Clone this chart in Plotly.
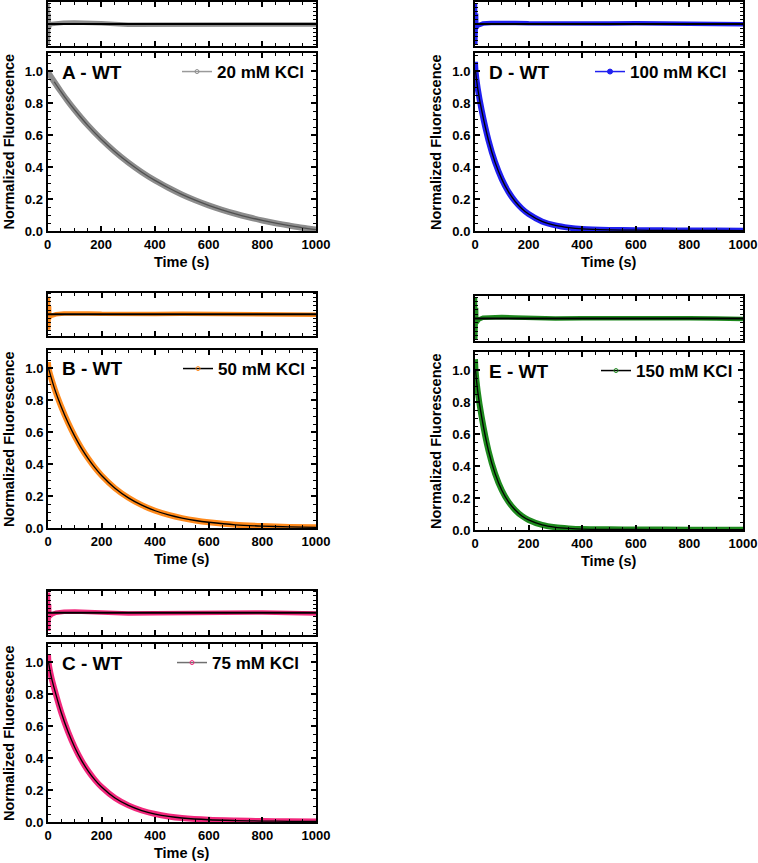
import plotly.graph_objects as go

W, H = 758, 863

# ---------------- data ----------------
time_A = [0, 25, 50, 75, 100, 150, 200, 250, 300, 350, 400, 450, 500, 550, 600, 650, 700, 750, 800, 850, 900, 950, 1000]
fluor_A = [1.00, 0.935, 0.873, 0.815, 0.761, 0.662, 0.575, 0.498, 0.430, 0.370, 0.317, 0.271, 0.229, 0.193,
           0.161, 0.133, 0.108, 0.086, 0.066, 0.049, 0.034, 0.020, 0.009]

time_B = [0, 2, 25, 50, 75, 100, 125, 150, 175, 200, 250, 300, 350, 400, 450, 500, 550, 600, 700, 800, 900, 1000]
fluor_B = [1.04, 1.00, 0.870, 0.757, 0.659, 0.574, 0.499, 0.435, 0.378, 0.329, 0.249, 0.189, 0.143, 0.108,
           0.082, 0.062, 0.047, 0.036, 0.020, 0.012, 0.007, 0.004]

time_C = [0, 2, 12, 25, 50, 75, 100, 125, 150, 175, 200, 250, 300, 350, 400, 450, 500, 600, 700, 800, 900, 1000]
fluor_C = [1.05, 1.00, 0.91, 0.826, 0.683, 0.565, 0.467, 0.386, 0.319, 0.264, 0.219, 0.150, 0.104, 0.072,
           0.050, 0.035, 0.025, 0.014, 0.009, 0.006, 0.004, 0.003]

time_D = [0, 2, 10, 25, 50, 75, 100, 125, 150, 175, 200, 250, 300, 350, 400, 500, 600, 700, 800, 900, 1000]
fluor_D = [1.06, 1.00, 0.894, 0.755, 0.570, 0.430, 0.325, 0.245, 0.185, 0.140, 0.106, 0.060, 0.035, 0.021,
           0.013, 0.007, 0.005, 0.004, 0.003, 0.003, 0.002]

time_E = [0, 2, 10, 25, 50, 75, 100, 125, 150, 175, 200, 250, 300, 350, 400, 500, 600, 800, 1000]
fluor_E = [1.07, 1.00, 0.870, 0.707, 0.499, 0.353, 0.249, 0.176, 0.125, 0.088, 0.063, 0.032, 0.017, 0.010,
           0.006, 0.004, 0.003, 0.002, 0.002]

resid_time = [0, 1, 2, 3, 4, 5, 8, 15, 30, 60, 100, 150, 200, 300, 400, 500, 600, 700, 800, 900, 1000]
resid_A = [0.95, -0.95, 0.9, -0.9, 0.5, -0.2, -0.05, 0.0, 0.03, 0.06, 0.07, 0.06, 0.03, -0.03, -0.03, 0.0, 0.02, 0.02, 0.0, -0.01, -0.02]
resid_B = [0.85, -0.75, 0.8, -0.7, 0.4, -0.2, -0.1, -0.06, 0.0, 0.04, 0.05, 0.04, 0.02, 0.0, 0.01, 0.02, 0.02, 0.03, 0.01, 0.0, -0.02]
resid_C = [0.95, -0.85, 0.9, -0.8, 0.4, -0.2, -0.15, -0.08, 0.0, 0.05, 0.06, 0.04, 0.0, -0.03, -0.02, 0.0, 0.02, 0.02, 0.01, -0.01, -0.03]
resid_D = [0.98, -0.98, 0.95, -0.95, 0.5, -0.2, -0.1, -0.05, 0.02, 0.05, 0.06, 0.05, 0.03, 0.01, 0.02, 0.02, 0.03, 0.02, 0.01, 0.0, -0.01]
resid_E = [1.0, -1.0, 0.95, -0.95, 0.5, -0.2, -0.12, -0.04, 0.04, 0.06, 0.07, 0.05, 0.03, 0.0, 0.01, 0.02, 0.02, 0.02, 0.01, 0.0, -0.02]

panel_letters = ["A", "B", "C", "D", "E"]
kcl_labels = ["20 mM KCl", "50 mM KCl", "75 mM KCl", "100 mM KCl", "150 mM KCl"]
x_ticks = [0, 200, 400, 600, 800, 1000]
y_ticks = [0.0, 0.2, 0.4, 0.6, 0.8, 1.0]

# ---------------- styling / layout ----------------
colors = ["#8c8c8c", "#ff8a1c", "#f2287c", "#2020f0", "#1e8a1e"]
fit_colors = ["#505050", "black", "black", "black", "black"]
legend_line = ["#9a9a9a", "black", "#707070", "#2020f0", "black"]

times = [time_A, time_B, time_C, time_D, time_E]
fluors = [fluor_A, fluor_B, fluor_C, fluor_D, fluor_E]
resids = [resid_A, resid_B, resid_C, resid_D, resid_E]

# pixel boxes: x0, x1, residual top, residual bottom, main top, main bottom
boxes = [
    (47.5, 316, 2, 46, 53, 231),
    (48, 316, 292.5, 336, 350, 528),
    (48, 316, 590.5, 635, 644, 822),
    (475, 743, 2, 46, 53, 231),
    (475, 743, 296, 341, 352, 530),
]
legend_right = [309, 310, 304, 732, 738]

FONT = "Liberation Sans, Arial, sans-serif"

fig = go.Figure()
layout = dict(
    width=W, height=H,
    margin=dict(l=0, r=0, t=0, b=0),
    paper_bgcolor="white", plot_bgcolor="white",
    font=dict(family=FONT, color="black"),
    showlegend=True,
    annotations=[],
)


def px_x(p):
    return p / W


def px_y(p):
    return 1 - p / H


for i in range(5):
    x0, x1, rt, rb, mt, mb = boxes[i]
    ra = 2 * i + 1
    ma = 2 * i + 2
    rx, ry = f"x{ra}", f"y{ra}"
    mx, my = f"x{ma}", f"y{ma}"

    # residuals
    fig.add_trace(go.Scatter(x=resid_time, y=resids[i], mode="lines",
                             line=dict(color=colors[i], width=4.5),
                             xaxis=rx, yaxis=ry, showlegend=False, hoverinfo="skip"))
    fig.add_trace(go.Scatter(x=[0, 1000], y=[0, 0], mode="lines",
                             line=dict(color="black", width=2),
                             xaxis=rx, yaxis=ry, showlegend=False, hoverinfo="skip"))
    # data band + fit
    fig.add_trace(go.Scatter(x=times[i], y=fluors[i], mode="lines",
                             line=dict(color=colors[i], width=6, shape="spline", smoothing=0.8),
                             xaxis=mx, yaxis=my, showlegend=False, hoverinfo="skip"))
    fig.add_trace(go.Scatter(x=times[i][1:], y=fluors[i][1:], mode="lines",
                             line=dict(color=fit_colors[i], width=1.3, shape="spline", smoothing=0.8),
                             xaxis=mx, yaxis=my, showlegend=False, hoverinfo="skip"))
    # legend entry
    lg = "legend" if i == 0 else f"legend{i + 1}"
    fig.add_trace(go.Scatter(x=[None], y=[None], mode="lines+markers", name=kcl_labels[i],
                             line=dict(color=legend_line[i], width=1.5),
                             marker=dict(color=colors[i], size=5 if i == 3 else 4,
                                         symbol="circle" if i == 3 else "circle-open",
                                         line=dict(color=colors[i], width=1)),
                             xaxis=mx, yaxis=my, legend=lg, showlegend=True))

    layout[lg] = dict(
        x=px_x(legend_right[i]), y=px_y((mt + 19)), xanchor="right", yanchor="middle",
        bgcolor="rgba(0,0,0,0)", borderwidth=0,
        font=dict(family=FONT, size=17, weight="bold", color="black"),
        itemwidth=30, tracegroupgap=0,
    )

    common_x = dict(range=[0, 1000], showline=True, linecolor="black", linewidth=2, mirror="allticks",
                    ticks="inside", ticklen=5, tickwidth=1.5, tickcolor="black",
                    tickvals=x_ticks, showgrid=False, zeroline=False,
                    minor=dict(dtick=50, ticks="inside", ticklen=3, tickwidth=1.2, tickcolor="black", showgrid=False),
                    domain=[px_x(x0), px_x(x1)], automargin=False)
    layout[f"xaxis{ra}"] = dict(common_x, anchor=ry, showticklabels=False)
    layout[f"xaxis{ma}"] = dict(common_x, anchor=my, showticklabels=True,
                                tickfont=dict(family=FONT, size=13, weight="bold", color="black"))
    layout[f"yaxis{ra}"] = dict(range=[-1.05, 1.05], showline=True, linecolor="black", linewidth=2,
                                mirror="allticks", ticks="inside", ticklen=3, tickwidth=1.2, tickcolor="black",
                                dtick=0.2, tick0=0, showticklabels=False, showgrid=False, zeroline=False,
                                domain=[px_y(rb), px_y(rt)], anchor=rx, automargin=False)
    layout[f"yaxis{ma}"] = dict(range=[0, 1.115], showline=True, linecolor="black", linewidth=2,
                                mirror="allticks", ticks="inside", ticklen=5, tickwidth=1.5, tickcolor="black",
                                tickvals=y_ticks, tickformat=".1f", showgrid=False, zeroline=False,
                                minor=dict(dtick=0.05, tick0=0, ticks="inside", ticklen=3, tickwidth=1.2,
                                           tickcolor="black", showgrid=False),
                                tickfont=dict(family=FONT, size=13, weight="bold", color="black"),
                                domain=[px_y(mb), px_y(mt)], anchor=mx, automargin=False)

    # panel label
    layout["annotations"].append(dict(
        text=f"{panel_letters[i]} - WT", xref="paper", yref="paper",
        x=px_x(x0 + 12), y=px_y(mt + 19), xanchor="left", yanchor="middle", showarrow=False,
        font=dict(family=FONT, size=19, weight="bold", color="black")))
    # axis titles
    layout["annotations"].append(dict(
        text="Time (s)", xref="paper", yref="paper",
        x=px_x((x0 + x1) / 2), y=px_y(mb + 31), xanchor="center", yanchor="middle", showarrow=False,
        font=dict(family=FONT, size=14.5, weight="bold", color="black")))
    layout["annotations"].append(dict(
        text="Normalized Fluorescence", xref="paper", yref="paper", textangle=-90,
        x=px_x(x0 - 39), y=px_y((mt + mb) / 2), xanchor="center", yanchor="middle", showarrow=False,
        font=dict(family=FONT, size=14.5, weight="bold", color="black")))

fig.update_layout(**layout)
fig.write_html("out.html", config={"displayModeBar": False},
               post_script="document.body.style.margin='0px';")
